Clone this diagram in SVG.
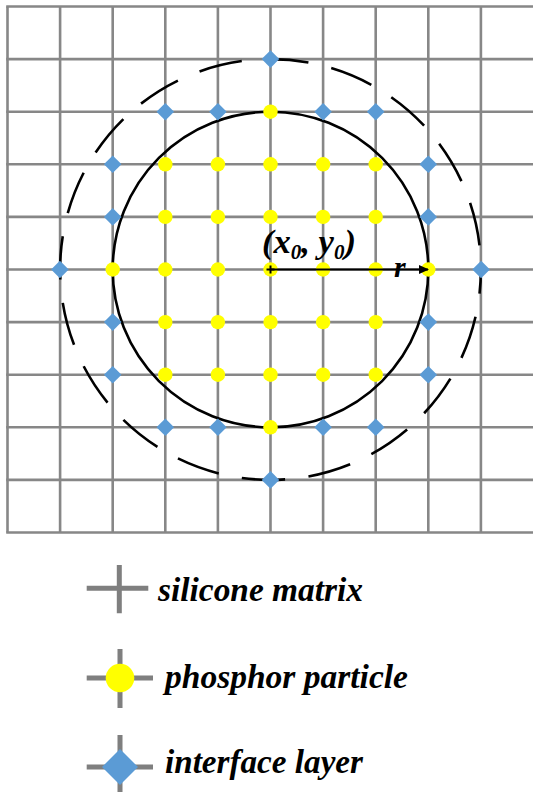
<svg xmlns="http://www.w3.org/2000/svg" xmlns:xlink="http://www.w3.org/1999/xlink" width="533" height="792" viewBox="0 0 533 792">
<style>
.g{stroke:#878787;stroke-width:2.6;fill:none}
.lg{stroke:#7f7f7f;stroke-width:5;fill:none}
text{font-family:'Liberation Serif','Times New Roman',serif;font-style:italic;font-weight:700;fill:#000}
</style>
<defs>
<circle id="p" r="7.2" fill="#ffff00"/>
<path id="d" d="M0,-8.8 L8.8,0 L0,8.8 L-8.8,0Z" fill="#5b9bd5"/>
<marker id="ah" markerWidth="10" markerHeight="10" refX="9" refY="5" orient="auto" markerUnits="userSpaceOnUse"><path d="M0,0.5 L10,5 L0,9.5Z" fill="#000"/></marker>
</defs>
<rect width="533" height="792" fill="#fff"/>
<g id="grid" class="g">
<path d="M7.5,6.5V532.5M60.1,6.5V532.5M112.7,6.5V532.5M165.3,6.5V532.5M217.9,6.5V532.5M270.5,6.5V532.5M323.1,6.5V532.5M375.7,6.5V532.5M428.3,6.5V532.5M480.9,6.5V532.5"/>
<path d="M6.2,6.5H533M6.2,59.1H533M6.2,111.7H533M6.2,164.3H533M6.2,216.9H533M6.2,269.5H533M6.2,322.1H533M6.2,374.7H533M6.2,427.3H533M6.2,479.9H533M6.2,532.5H533"/>
</g>
<g id="circles" fill="none" stroke="#000" stroke-width="2.6">
<circle id="particle-boundary" cx="270.5" cy="269.5" r="157.8"/>
<circle id="interface-boundary" cx="270.5" cy="269.5" r="210.4" stroke-dasharray="43.5 23.5" stroke-dashoffset="19.3"/>
</g>
<g id="phosphor">
<use xlink:href="#p" x="270.5" y="111.7"/>
<use xlink:href="#p" x="165.3" y="164.3"/><use xlink:href="#p" x="217.9" y="164.3"/><use xlink:href="#p" x="270.5" y="164.3"/><use xlink:href="#p" x="323.1" y="164.3"/><use xlink:href="#p" x="375.7" y="164.3"/>
<use xlink:href="#p" x="165.3" y="216.9"/><use xlink:href="#p" x="217.9" y="216.9"/><use xlink:href="#p" x="270.5" y="216.9"/><use xlink:href="#p" x="323.1" y="216.9"/><use xlink:href="#p" x="375.7" y="216.9"/>
<use xlink:href="#p" x="112.7" y="269.5"/><use xlink:href="#p" x="165.3" y="269.5"/><use xlink:href="#p" x="217.9" y="269.5"/><use xlink:href="#p" x="270.5" y="269.5"/><use xlink:href="#p" x="323.1" y="269.5"/><use xlink:href="#p" x="375.7" y="269.5"/><use xlink:href="#p" x="428.3" y="269.5"/>
<use xlink:href="#p" x="165.3" y="322.1"/><use xlink:href="#p" x="217.9" y="322.1"/><use xlink:href="#p" x="270.5" y="322.1"/><use xlink:href="#p" x="323.1" y="322.1"/><use xlink:href="#p" x="375.7" y="322.1"/>
<use xlink:href="#p" x="165.3" y="374.7"/><use xlink:href="#p" x="217.9" y="374.7"/><use xlink:href="#p" x="270.5" y="374.7"/><use xlink:href="#p" x="323.1" y="374.7"/><use xlink:href="#p" x="375.7" y="374.7"/>
<use xlink:href="#p" x="270.5" y="427.3"/>
</g>
<g id="interface">
<use xlink:href="#d" x="270.5" y="59.1"/>
<use xlink:href="#d" x="165.3" y="111.7"/><use xlink:href="#d" x="217.9" y="111.7"/><use xlink:href="#d" x="323.1" y="111.7"/><use xlink:href="#d" x="375.7" y="111.7"/>
<use xlink:href="#d" x="112.7" y="164.3"/><use xlink:href="#d" x="428.3" y="164.3"/>
<use xlink:href="#d" x="112.7" y="216.9"/><use xlink:href="#d" x="428.3" y="216.9"/>
<use xlink:href="#d" x="59.9" y="269.5"/><use xlink:href="#d" x="481.1" y="269.5"/>
<use xlink:href="#d" x="112.7" y="322.1"/><use xlink:href="#d" x="428.3" y="322.1"/>
<use xlink:href="#d" x="112.7" y="374.7"/><use xlink:href="#d" x="428.3" y="374.7"/>
<use xlink:href="#d" x="165.3" y="427.3"/><use xlink:href="#d" x="217.9" y="427.3"/><use xlink:href="#d" x="323.1" y="427.3"/><use xlink:href="#d" x="375.7" y="427.3"/>
<use xlink:href="#d" x="270.5" y="479.9"/>
</g>
<g id="radius">
<line x1="270.5" y1="269.5" x2="428" y2="269.5" stroke="#000" stroke-width="2" marker-end="url(#ah)"/>
<path d="M266.5,269.5H274.5M270.5,265.5V273.5" stroke="#000" stroke-width="2"/>
<text x="262" y="253" font-size="33" textLength="94" lengthAdjust="spacingAndGlyphs">(<tspan>x</tspan><tspan font-size="20" dy="6">0</tspan><tspan dy="-6">, y</tspan><tspan font-size="20" dy="6">0</tspan><tspan dy="-6">)</tspan></text>
<text x="394" y="277" font-size="30">r</text>
</g>
<g id="legend-silicone">
<path class="lg" d="M86.7,588.3H148.3M119.3,565V613.3"/>
<text x="158" y="601" font-size="33" textLength="205" lengthAdjust="spacingAndGlyphs">silicone matrix</text>
</g>
<g id="legend-phosphor">
<path class="lg" d="M86.7,678H153M120,649V708"/>
<circle cx="120" cy="678" r="14.3" fill="#ffff00"/>
<text x="165" y="688" font-size="33" textLength="243" lengthAdjust="spacingAndGlyphs">phosphor particle</text>
</g>
<g id="legend-interface">
<path class="lg" d="M86.7,767H153M120,735V792"/>
<path d="M120,749 L138,767 L120,785 L102,767Z" fill="#5b9bd5"/>
<text x="165" y="773" font-size="33" textLength="198" lengthAdjust="spacingAndGlyphs">interface layer</text>
</g>
</svg>
